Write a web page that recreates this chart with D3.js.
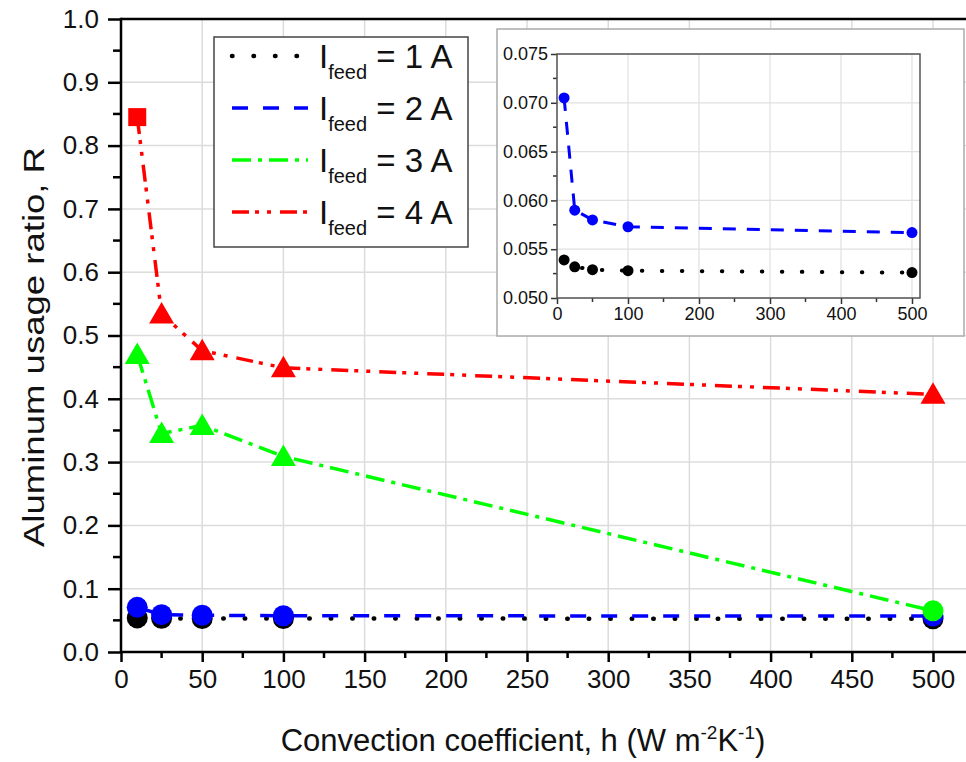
<!DOCTYPE html>
<html>
<head>
<meta charset="utf-8">
<script src="https://cdn.jsdelivr.net/npm/d3@7"></script>
<style>
  html, body { margin: 0; padding: 0; background: #fff; }
  svg { display: block; font-family: "Liberation Sans", Arial, sans-serif; }
</style>
</head>
<body>
<svg id="chart" width="966" height="762"></svg>
<script>
// Convection coefficient h (W m^-2 K^-1)
const hValues = [10, 25, 50, 100, 500];
// Aluminum usage ratio R for each feed current
const ratio1A = [0.0539, 0.0532, 0.0529, 0.0528, 0.0526];
const ratio2A = [0.0705, 0.0590, 0.0580, 0.0573, 0.0567];
const ratio3A = [0.470, 0.345, 0.358, 0.309, 0.065];
const ratio4A = [0.845, 0.534, 0.476, 0.449, 0.407];
// marker shape per point
const shapes1A = ["circle", "circle", "circle", "circle", "circle"];
const shapes2A = ["circle", "circle", "circle", "circle", "circle"];
const shapes3A = ["triangle", "triangle", "triangle", "triangle", "circle"];
const shapes4A = ["square", "triangle", "triangle", "triangle", "triangle"];
const seriesLabels = ["1 A", "2 A", "3 A", "4 A"];
// axis ticks
const xTicksMain = [0, 50, 100, 150, 200, 250, 300, 350, 400, 450, 500];
const yTicksMain = [0, 0.1, 0.2, 0.3, 0.4, 0.5, 0.6, 0.7, 0.8, 0.9, 1.0];
const xTicksInset = [0, 100, 200, 300, 400, 500];
const yTicksInset = [0.050, 0.055, 0.060, 0.065, 0.070, 0.075];

const styles = [
  { color: "#000000", dash: "0.5,21", width: 4.5, cap: "round" },
  { color: "#0000ff", dash: "16,15", width: 3.5, cap: "butt" },
  { color: "#00ff00", dash: "19,7,4,7", width: 3.5, cap: "butt" },
  { color: "#ff0000", dash: "17,6,4,8,4,9", width: 3.5, cap: "butt" }
];
const insetStyles = [
  { color: "#000000", dash: "0.5,19.5", width: 4, cap: "round" },
  { color: "#0000ff", dash: "13,11", width: 3, cap: "butt" }
];

const series = [ratio1A, ratio2A, ratio3A, ratio4A].map((vals, i) => ({
  label: seriesLabels[i],
  points: hValues.map((h, j) => ({
    h, r: vals[j], shape: [shapes1A, shapes2A, shapes3A, shapes4A][i][j]
  })),
  style: styles[i]
}));

const svg = d3.select("#chart");

// marker glyphs centred on the origin
function glyph(shape, s) {
  if (shape === "square") {
    const a = 9 * s;
    return `M${-a},${-a}H${a}V${a}H${-a}Z`;
  }
  if (shape === "triangle") {
    const w = 12.5 * s, t = 12 * s, b = 9.5 * s;
    return `M0,${-t}L${w},${b}L${-w},${b}Z`;
  }
  const r = 10.5 * s;
  return `M${r},0A${r},${r} 0 1,1 ${-r},0A${r},${r} 0 1,1 ${r},0Z`;
}

// ---------- main plot ----------
const x = d3.scaleLinear().domain([0, 500]).range([121, 933]);
const y = d3.scaleLinear().domain([0, 1]).range([652, 19]);
const xEnd = 966;

const grid = svg.append("g");
grid.selectAll("line.vg").data(xTicksMain).join("line")
  .attr("x1", d => x(d)).attr("x2", d => x(d))
  .attr("y1", y(1)).attr("y2", y(0))
  .attr("stroke", "#dcdcdc").attr("stroke-width", 1.5);
grid.selectAll("line.hg").data(yTicksMain).join("line")
  .attr("x1", x(0)).attr("x2", xEnd)
  .attr("y1", d => y(d)).attr("y2", d => y(d))
  .attr("stroke", "#dcdcdc").attr("stroke-width", 1.5);

// bottom axis
const xAxis = d3.axisBottom(x).tickValues(xTicksMain).tickFormat(d3.format("d"))
  .tickSize(10).tickPadding(8);
const gx = svg.append("g").attr("transform", `translate(0,${y(0)})`).call(xAxis);
gx.select(".domain").remove();
gx.selectAll(".tick line").attr("stroke", "#000").attr("stroke-width", 2.5);
gx.selectAll(".tick text").attr("font-size", 26).attr("fill", "#111")
  .attr("font-family", "Liberation Sans, Arial, sans-serif");
const xMinor = d3.range(25, 500, 50);
svg.append("g").selectAll("line").data(xMinor).join("line")
  .attr("x1", d => x(d)).attr("x2", d => x(d))
  .attr("y1", y(0)).attr("y2", y(0) + 6)
  .attr("stroke", "#000").attr("stroke-width", 2.5);

// left axis
const yAxis = d3.axisLeft(y).tickValues(yTicksMain).tickFormat(d3.format(".1f"))
  .tickSize(13).tickPadding(9);
const gy = svg.append("g").attr("transform", `translate(${x(0)},0)`).call(yAxis);
gy.select(".domain").remove();
gy.selectAll(".tick line").attr("stroke", "#000").attr("stroke-width", 2.5);
gy.selectAll(".tick text").attr("font-size", 26).attr("fill", "#111")
  .attr("font-family", "Liberation Sans, Arial, sans-serif");
const yMinor = d3.range(0.05, 1, 0.1);
svg.append("g").selectAll("line").data(yMinor).join("line")
  .attr("x1", x(0) - 8).attr("x2", x(0))
  .attr("y1", d => y(d)).attr("y2", d => y(d))
  .attr("stroke", "#000").attr("stroke-width", 2.5);

// frame lines
svg.append("line").attr("x1", x(0)).attr("x2", xEnd).attr("y1", y(0)).attr("y2", y(0))
  .attr("stroke", "#000").attr("stroke-width", 2.5);
svg.append("line").attr("x1", x(0)).attr("x2", xEnd).attr("y1", y(1)).attr("y2", y(1))
  .attr("stroke", "#000").attr("stroke-width", 2.5);
svg.append("line").attr("x1", x(0)).attr("x2", x(0)).attr("y1", y(1) - 1.25).attr("y2", y(0) + 1.25)
  .attr("stroke", "#000").attr("stroke-width", 2.5);

// axis titles
svg.append("text")
  .attr("transform", `translate(44,347) rotate(-90)`)
  .attr("text-anchor", "middle").attr("font-size", 29).attr("fill", "#111")
  .attr("textLength", 400).attr("lengthAdjust", "spacingAndGlyphs")
  .text("Aluminum usage ratio, R");
const xt = svg.append("text")
  .attr("x", 523).attr("y", 751)
  .attr("text-anchor", "middle").attr("font-size", 31).attr("fill", "#111");
xt.append("tspan").text("Convection coefficient, h (W m");
xt.append("tspan").attr("font-size", 19).attr("dy", -12).text("-2");
xt.append("tspan").attr("dy", 12).text("K");
xt.append("tspan").attr("font-size", 19).attr("dy", -12).text("-1");
xt.append("tspan").attr("dy", 12).text(")");

// series lines and markers
const line = d3.line().x(d => x(d.h)).y(d => y(d.r));
series.forEach(s => {
  svg.append("path").datum(s.points).attr("d", line)
    .attr("fill", "none").attr("stroke", s.style.color)
    .attr("stroke-width", s.style.width).attr("stroke-dasharray", s.style.dash)
    .attr("stroke-linecap", s.style.cap);
});
series.forEach(s => {
  svg.append("g").selectAll("path").data(s.points).join("path")
    .attr("transform", d => `translate(${x(d.h)},${y(d.r)})`)
    .attr("d", d => glyph(d.shape, 1))
    .attr("fill", s.style.color);
});

// ---------- legend ----------
const lg = svg.append("g");
lg.append("rect").attr("x", 214).attr("y", 37).attr("width", 254).attr("height", 210)
  .attr("fill", "#fff").attr("stroke", "#444").attr("stroke-width", 1.5);
const legendRows = d3.scaleBand().domain(seriesLabels).range([39, 247]);
series.forEach(s => {
  const cy = legendRows(s.label) + legendRows.bandwidth() / 2 - 9;
  lg.append("line").attr("x1", 232).attr("x2", 308).attr("y1", cy).attr("y2", cy)
    .attr("stroke", s.style.color).attr("stroke-width", s.style.width)
    .attr("stroke-dasharray", s.style.dash).attr("stroke-linecap", s.style.cap);
  const t = lg.append("text").attr("x", 319).attr("y", cy + 12)
    .attr("font-size", 33).attr("fill", "#111");
  t.append("tspan").text("I");
  t.append("tspan").attr("font-size", 20).attr("dy", 11).attr("dx", 0).text("feed");
  t.append("tspan").attr("dy", -11).text(" = " + s.label);
});

// ---------- inset ----------
const ig = svg.append("g");
ig.append("rect").attr("x", 497).attr("y", 29).attr("width", 467).attr("height", 307)
  .attr("fill", "#fff").attr("stroke", "#aaa").attr("stroke-width", 1.5);
const xi = d3.scaleLinear().domain([0, 500]).range([557, 912]);
const yi = d3.scaleLinear().domain([0.050, 0.075]).range([298, 54]);
const xiEnd = 920;

ig.selectAll("line.vg").data(xTicksInset).join("line")
  .attr("x1", d => xi(d)).attr("x2", d => xi(d)).attr("y1", yi(0.075)).attr("y2", yi(0.050))
  .attr("stroke", "#e0e0e0").attr("stroke-width", 1.2);
ig.selectAll("line.hg").data(yTicksInset).join("line")
  .attr("x1", xi(0)).attr("x2", xiEnd).attr("y1", d => yi(d)).attr("y2", d => yi(d))
  .attr("stroke", "#e0e0e0").attr("stroke-width", 1.2);

const xiAxis = d3.axisBottom(xi).tickValues(xTicksInset).tickFormat(d3.format("d"))
  .tickSize(6).tickPadding(3);
const gxi = ig.append("g").attr("transform", `translate(0,${yi(0.050)})`).call(xiAxis);
gxi.select(".domain").remove();
gxi.selectAll(".tick line").attr("stroke", "#333").attr("stroke-width", 1.5);
gxi.selectAll(".tick text").attr("font-size", 18).attr("fill", "#111")
  .attr("font-family", "Liberation Sans, Arial, sans-serif");
ig.append("g").selectAll("line").data(d3.range(50, 500, 100)).join("line")
  .attr("x1", d => xi(d)).attr("x2", d => xi(d)).attr("y1", yi(0.050)).attr("y2", yi(0.050) + 4)
  .attr("stroke", "#333").attr("stroke-width", 1.5);

const yiAxis = d3.axisLeft(yi).tickValues(yTicksInset).tickFormat(d3.format(".3f"))
  .tickSize(6).tickPadding(3);
const gyi = ig.append("g").attr("transform", `translate(${xi(0)},0)`).call(yiAxis);
gyi.select(".domain").remove();
gyi.selectAll(".tick line").attr("stroke", "#333").attr("stroke-width", 1.5);
gyi.selectAll(".tick text").attr("font-size", 18).attr("fill", "#111")
  .attr("font-family", "Liberation Sans, Arial, sans-serif");
ig.append("g").selectAll("line").data(d3.range(0.0525, 0.075, 0.005)).join("line")
  .attr("x1", xi(0) - 4).attr("x2", xi(0)).attr("y1", d => yi(d)).attr("y2", d => yi(d))
  .attr("stroke", "#333").attr("stroke-width", 1.5);

ig.append("rect").attr("x", xi(0)).attr("y", yi(0.075))
  .attr("width", xiEnd - xi(0)).attr("height", yi(0.050) - yi(0.075))
  .attr("fill", "none").attr("stroke", "#555").attr("stroke-width", 1.5);

const lineI = d3.line().x(d => xi(d.h)).y(d => yi(d.r));
series.slice(0, 2).forEach((s, i) => {
  const st = insetStyles[i];
  ig.append("path").datum(s.points).attr("d", lineI)
    .attr("fill", "none").attr("stroke", st.color).attr("stroke-width", st.width)
    .attr("stroke-dasharray", st.dash).attr("stroke-linecap", st.cap);
  ig.append("g").selectAll("circle").data(s.points).join("circle")
    .attr("cx", d => xi(d.h)).attr("cy", d => yi(d.r)).attr("r", 5.5)
    .attr("fill", st.color);
});
</script>
</body>
</html>
